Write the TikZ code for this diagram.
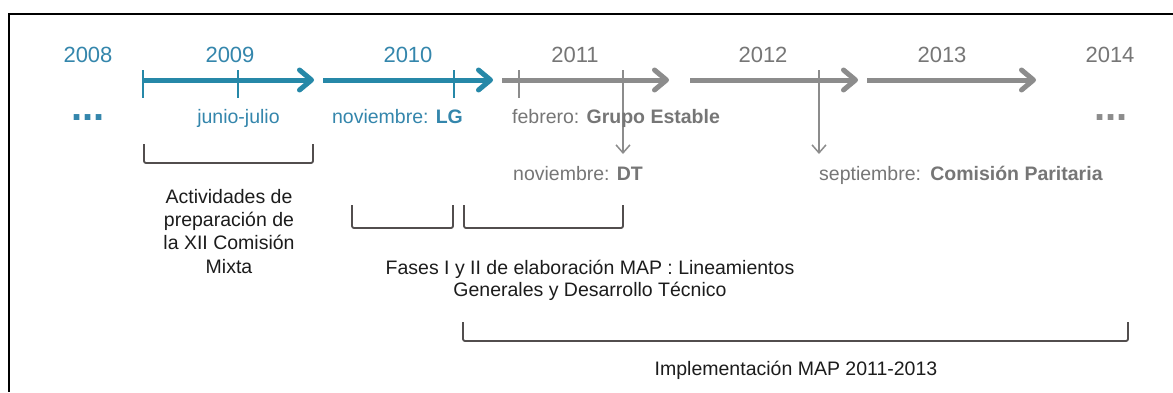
\documentclass[tikz,border=0pt]{standalone}
\usepackage{fontspec}
\setmainfont{Liberation Sans}
\usetikzlibrary{arrows.meta}
\definecolor{tealarr}{RGB}{38,136,168}
\definecolor{tealtxt}{RGB}{52,134,172}
\definecolor{grayarr}{RGB}{140,140,140}
\definecolor{graytxt}{RGB}{118,118,118}
\definecolor{brk}{RGB}{82,78,78}
\definecolor{txt}{RGB}{28,28,28}
\begin{document}
\begin{tikzpicture}[x=1pt,y=-1pt,
  yr/.style={font=\fontsize{22}{26}\selectfont, anchor=base, inner sep=0pt},
  lbl/.style={font=\fontsize{19.5}{23.3}\selectfont, inner sep=0pt},
  dots/.style={font=\fontsize{40}{40}\selectfont\bfseries, anchor=base, inner sep=0pt},
  tl/.style={line width=5pt, -{Straight Barb[length=12pt,width=20pt,line join=round,line cap=round]}},
  tickline/.style={line width=1.2pt},
  downarr/.style={line width=1.5pt, grayarr, -{Straight Barb[length=8pt,width=14pt]}},
  bracket/.style={line width=1.8pt, brk, rounded corners=2pt}
]
\useasboundingbox (0,0) rectangle (1173,392);
\fill[white] (0,0) rectangle (1173,392);
\draw[line width=2.6pt, black] (1173,14) -- (9,14) -- (9,392);

% year labels
\node[yr, tealtxt] (y2008) at (88,62) {2008};
\node[yr, tealtxt] (y2009) at (230,62) {2009};
\node[yr, tealtxt] (y2010) at (408,62) {2010};
\node[yr, graytxt] (y2011) at (575,62) {2011};
\node[yr, graytxt] (y2012) at (763,62) {2012};
\node[yr, graytxt] (y2013) at (942,62) {2013};
\node[yr, graytxt] (y2014) at (1110,62) {2014};

% timeline arrows
\coordinate (a1s) at (143,80); \coordinate (a1e) at (314,80);
\coordinate (a2s) at (323,80); \coordinate (a2e) at (493,80);
\coordinate (a3s) at (502,80); \coordinate (a3e) at (669,80);
\coordinate (a4s) at (690,80); \coordinate (a4e) at (858,80);
\coordinate (a5s) at (867,80); \coordinate (a5e) at (1036,80);
\draw[tl, tealarr] (a1s) -- (a1e);
\draw[tl, tealarr] (a2s) -- (a2e);
\draw[tl, grayarr] (a3s) -- (a3e);
\draw[tl, grayarr] (a4s) -- (a4e);
\draw[tl, grayarr] (a5s) -- (a5e);

% ticks
\coordinate (t1a) at (143,70); \coordinate (t1b) at (143,98);
\coordinate (t2a) at (238,70); \coordinate (t2b) at (238,98);
\coordinate (t3a) at (454,70); \coordinate (t3b) at (454,98);
\coordinate (t4a) at (519,70); \coordinate (t4b) at (519,98);
\draw[tickline, tealarr] (t1a) -- (t1b);
\draw[tickline, tealarr] (t2a) -- (t2b);
\draw[tickline, tealarr] (t3a) -- (t3b);
\draw[tickline, grayarr] (t4a) -- (t4b);

% down arrows
\coordinate (d1a) at (623,70); \coordinate (d1b) at (623,154);
\coordinate (d2a) at (819,70); \coordinate (d2b) at (819,154);
\draw[downarr] (d1a) -- (d1b);
\draw[downarr] (d2a) -- (d2b);

% row labels
\node[dots, tealtxt] (dl) at (88,120) {...};
\node[dots, grayarr] (dr) at (1111,120) {...};
\node[lbl, tealtxt, anchor=base] (jj) at (238.5,123) {junio-julio};
\node[lbl, tealtxt, anchor=base] (nlg) at (397.5,123) {noviembre: \textbf{LG}};
\node[lbl, graytxt, anchor=base west] (feb) at (512,123) {febrero: \textbf{Grupo Estable}};
\node[lbl, graytxt, anchor=base west] (ndt) at (513,180) {noviembre: \textbf{DT}};
\node[lbl, graytxt, anchor=base west] (sep) at (819,180) {septiembre:\hspace{2pt} \textbf{Comisión Paritaria}};

% brackets
\draw[bracket] (144,144) -- (144,163) -- (313,163) -- (313,144);
\draw[bracket] (352,205) -- (352,228) -- (453,228) -- (453,205);
\draw[bracket] (464,205) -- (464,228) -- (623,228) -- (623,205);
\draw[bracket] (463,322) -- (463,341) -- (1128,341) -- (1128,322);

% bracket texts
\node[lbl, txt, align=center, anchor=north] (act) at (229,189)
  {Actividades de\\preparación de\\la XII Comisión\\Mixta};
\node[lbl, txt, align=center, anchor=north, font=\fontsize{19.5}{21.5}\selectfont] (fases) at (590,260)
  {Fases I y II de elaboración MAP : Lineamientos\\Generales y Desarrollo Técnico};
\node[lbl, txt, anchor=base] (impl) at (796,375) {Implementación MAP 2011-2013};
\end{tikzpicture}
\end{document}
